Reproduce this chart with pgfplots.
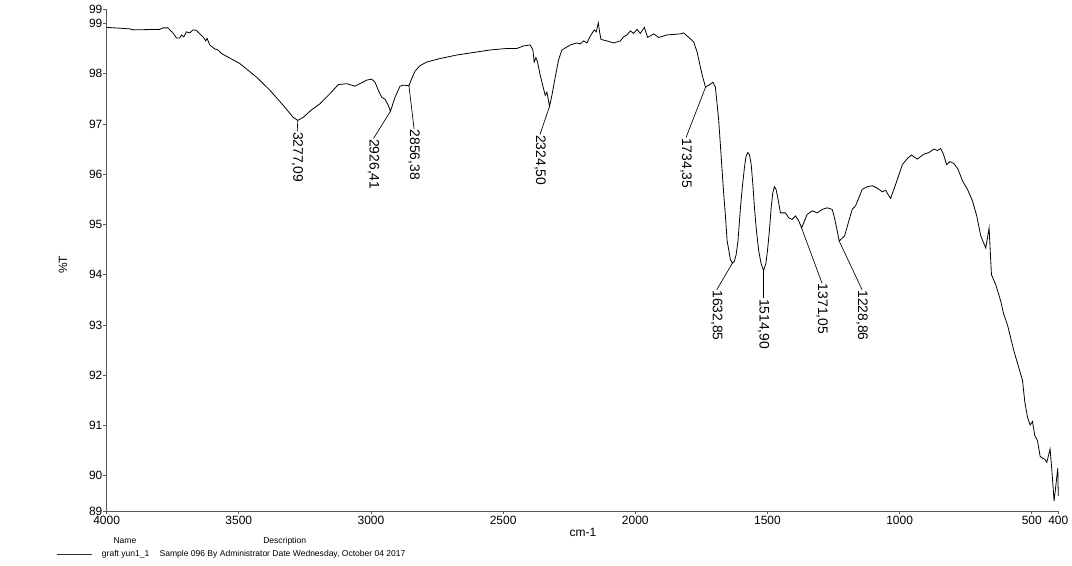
\documentclass[border=0pt]{standalone}
\usepackage{pgfplots}
\usepackage{pgfplotstable}
\pgfplotsset{compat=1.18}
\usepackage{fontspec}
\setmainfont{Liberation Sans}
\setsansfont{Liberation Sans}
\pgfplotstableread{
wn T
4000 98.92
3912.9 98.89
3900.4 98.87
3799 98.88
3786.7 98.91
3767.8 98.91
3746.2 98.79
3736 98.71
3723.5 98.71
3717 98.77
3708.3 98.73
3698.1 98.83
3685.6 98.81
3673.1 98.87
3660.2 98.86
3647.7 98.79
3635.2 98.73
3625 98.65
3620.1 98.70
3609.8 98.57
3590.9 98.49
3578.4 98.47
3565.5 98.40
3496.2 98.20
3433 97.93
3382.6 97.67
3332.2 97.37
3294.3 97.13
3277.09 97.07
3256.4 97.13
3224.6 97.28
3193.2 97.40
3155.3 97.60
3123.9 97.78
3092.1 97.80
3060.6 97.75
3041.7 97.80
3016.3 97.87
2997.3 97.89
2984.8 97.83
2972.3 97.67
2959.5 97.53
2947 97.49
2934.5 97.37
2926.41 97.25
2909.1 97.53
2890.2 97.75
2877.7 97.77
2856.38 97.76
2845.8 97.90
2833.3 98.05
2814.4 98.16
2789 98.23
2738.6 98.30
2675.4 98.37
2612.5 98.42
2549.2 98.47
2486 98.50
2448.1 98.50
2423.1 98.55
2397.7 98.57
2387.5 98.47
2382.6 98.23
2376.1 98.32
2370.1 98.23
2359.8 97.97
2347.3 97.70
2340.9 97.57
2334.5 97.63
2324.50 97.35
2315.5 97.57
2303 97.93
2290.5 98.27
2277.7 98.47
2246.2 98.57
2220.8 98.61
2208.3 98.59
2195.8 98.65
2182.9 98.61
2173 98.72
2164 98.80
2155.3 98.87
2147.7 98.83
2140.2 99.01
2135.2 98.83
2129.9 98.68
2107.2 98.65
2082.2 98.61
2056.8 98.65
2044.3 98.73
2031.4 98.77
2018.9 98.85
2006.4 98.80
1993.6 98.88
1981.1 98.80
1965.9 98.92
1953.4 98.72
1930.7 98.79
1911.7 98.72
1879.9 98.77
1829.5 98.79
1817 98.81
1804.2 98.75
1779.2 98.63
1766.3 98.43
1753.8 98.13
1746 97.95
1734.35 97.73
1716 97.79
1706.4 97.83
1697 97.73
1684.5 97.07
1674.2 96.27
1665.5 95.60
1659.1 95.17
1652.7 94.67
1645.8 94.47
1640.2 94.30
1632.85 94.23
1625 94.27
1618.6 94.40
1611.7 94.67
1602.3 95.33
1594.7 95.77
1587.2 96.13
1581.4 96.35
1574.6 96.43
1568.2 96.39
1561.8 96.20
1554.9 95.77
1549.3 95.33
1541.7 94.87
1533 94.47
1524.6 94.23
1514.90 94.08
1505.7 94.23
1499 94.53
1492.4 94.90
1486.1 95.33
1479.9 95.63
1473.6 95.75
1467.8 95.70
1461.1 95.53
1450.9 95.23
1432 95.23
1419.5 95.13
1406.6 95.10
1394.1 95.17
1381.5 95.07
1371.05 94.93
1349.8 95.20
1330.8 95.27
1311.9 95.23
1293.0 95.30
1274.0 95.33
1255.1 95.30
1246.4 95.13
1236.2 94.87
1228.86 94.67
1208.5 94.77
1192.2 95.07
1179.4 95.30
1166.9 95.37
1154.4 95.53
1141.5 95.70
1122.3 95.75
1103.4 95.77
1084.5 95.72
1065.5 95.65
1053 95.68
1044.4 95.60
1034.1 95.52
1021.6 95.70
1006.5 95.93
989.9 96.19
970.9 96.31
955.8 96.38
933.1 96.30
908.1 96.40
889.1 96.43
870.2 96.50
857.3 96.47
844.8 96.51
834.6 96.40
822.1 96.19
809.6 96.25
794.4 96.21
779.3 96.10
762.6 95.87
743.7 95.70
724.7 95.47
708.4 95.17
693.2 94.77
674.2 94.53
661.7 94.93
652.7 94.00
636.4 93.80
617.4 93.47
607.2 93.23
592.1 93.00
567.1 92.47
535.3 91.90
526.6 91.47
516.4 91.17
506.5 91.01
497.5 91.08
488.8 90.80
478.6 90.70
468.7 90.39
459.6 90.35
450.9 90.33
443.4 90.27
430.9 90.53
424.5 90.13
415.8 89.50
405.6 89.97
401.8 90.15
400 89.60
}\spectrum
\begin{document}
\begin{tikzpicture}
\useasboundingbox (-80pt,-40.5pt) rectangle (724pt,383.25pt);
\begin{axis}[
  at={(0,0)}, anchor=south west,
  scale only axis, width=713.7pt, height=376.3pt,
  x dir=reverse, xmin=400, xmax=4000, ymin=89.3, ymax=99.28,
  enlargelimits=false, clip=false,
  axis lines=left,
  axis line style={-, black!65, line width=0.6pt},
  tick style={black!65, line width=0.5pt},
  tick align=outside, major tick length=2.5pt,
  xtick={4000,3500,3000,2500,2000,1500,1000,500,400},
  xticklabels={4000,3500,3000,2500,2000,1500,1000,500,400},
  ytick={89.3,90,91,92,93,94,95,96,97,98,99,99.28},
  yticklabels={89,90,91,92,93,94,95,96,97,98,99,99},
  tick label style={font=\fontsize{9}{10}\selectfont},
  xticklabel style={inner sep=1pt, yshift=-0.5pt},
  yticklabel style={inner sep=0.5pt},
]
\addplot[black, line width=0.6pt] table[x=wn, y=T] {\spectrum};
\tikzset{pk/.style={rotate=-90, anchor=west, inner sep=0.3pt, font=\fontsize{10.4}{11}\selectfont}}
\draw[black, line width=0.5pt] (axis cs:3277.09,97.07) -- (axis cs:3279,96.85) node[pk] {3277,09};
\draw[black, line width=0.5pt] (axis cs:2926.41,97.25) -- (axis cs:2990.5,96.71) node[pk] {2926,41};
\draw[black, line width=0.5pt] (axis cs:2856.38,97.76) -- (axis cs:2837,96.90) node[pk] {2856,38};
\draw[black, line width=0.5pt] (axis cs:2324.50,97.35) -- (axis cs:2360.6,96.79) node[pk] {2324,50};
\draw[black, line width=0.5pt] (axis cs:1734.35,97.73) -- (axis cs:1808,96.73) node[pk] {1734,35};
\draw[black, line width=0.5pt] (axis cs:1632.85,94.23) -- (axis cs:1692,93.70) node[pk] {1632,85};
\draw[black, line width=0.5pt] (axis cs:1514.90,94.08) -- (axis cs:1514.9,93.53) node[pk] {1514,90};
\draw[black, line width=0.5pt] (axis cs:1371.05,94.93) -- (axis cs:1293.6,93.83) node[pk] {1371,05};
\draw[black, line width=0.5pt] (axis cs:1228.86,94.67) -- (axis cs:1142,93.70) node[pk] {1228,86};
\end{axis}
\node[font=\fontsize{9}{10}\selectfont] at (357.2pt,-15.75pt) {cm-1};
\node[rotate=90, font=\fontsize{9}{10}\selectfont] at (-32.7pt,184.5pt) {\%T};
\node[font=\fontsize{6.4}{7}\selectfont] at (13.7pt,-22.5pt) {Name};
\node[font=\fontsize{6.4}{7}\selectfont] at (133.5pt,-22.5pt) {Description};
\draw[black!80, line width=0.5pt] (-37.3pt,-32.6pt) -- (-11pt,-32.6pt);
\node[anchor=west, inner sep=0pt, font=\fontsize{6.4}{7}\selectfont] at (-3.75pt,-32.6pt) {graft yun1\_1};
\node[anchor=west, inner sep=0pt, font=\fontsize{6.4}{7}\selectfont] at (39.5pt,-32.6pt) {Sample 096 By Administrator Date Wednesday, October 04 2017};
\end{tikzpicture}
\end{document}
